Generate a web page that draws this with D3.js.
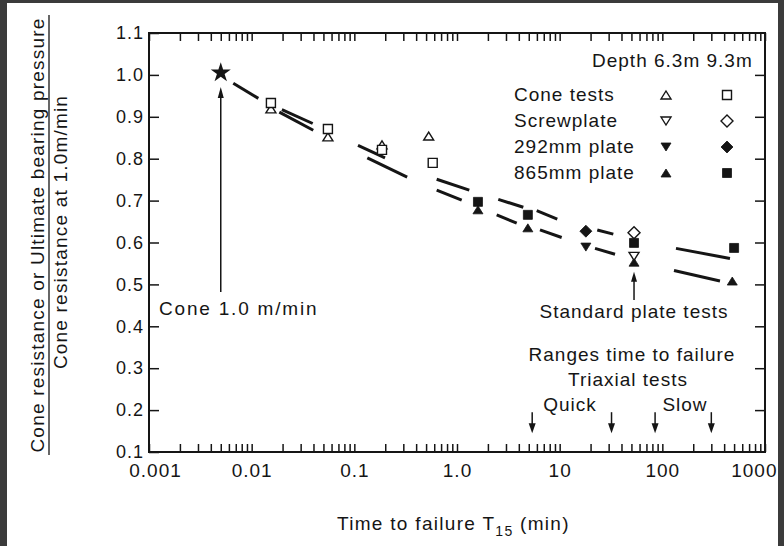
<!DOCTYPE html>
<html><head><meta charset="utf-8">
<script src="https://cdn.jsdelivr.net/npm/d3@7"></script>
<style>
body{margin:0;background:#fff}
svg{display:block}
text{font-family:"Liberation Sans",Arial,Helvetica,sans-serif;fill:#151515}
</style>
</head><body>
<svg id="chart" width="784" height="546"></svg>
<script>
// ---------------- data ----------------
const xDecades = [0.001, 0.01, 0.1, 1, 10, 100, 1000];
const xTickLabels = ["0.001", "0.01", "0.1", "1.0", "10", "100", "1000"];
const yTickValues = [0.1, 0.2, 0.3, 0.4, 0.5, 0.6, 0.7, 0.8, 0.9, 1.0, 1.1];
const yTickLabels = ["0.1", "0.2", "0.3", "0.4", "0.5", "0.6", "0.7", "0.8", "0.9", "1.0", "1.1"];

// [time to failure (min), normalised resistance]
const coneReference = [[0.005, 1.005]];
const coneTests63 = [[0.0154, 0.919], [0.0553, 0.852], [0.186, 0.833], [0.53, 0.854]];
const coneTests93 = [[0.0154, 0.933], [0.0553, 0.871], [0.186, 0.821], [0.58, 0.790]];
const screwplate63 = [[53, 0.567]];
const screwplate93 = [[53, 0.623]];
const plate292_63 = [[18, 0.589]];
const plate292_93 = [[18, 0.627]];
const plate865_63 = [[1.6, 0.678], [4.9, 0.635], [53, 0.553], [480, 0.508]];
const plate865_93 = [[1.6, 0.697], [4.9, 0.666], [53, 0.599], [500, 0.587]];

// dashed trend lines, as [start, end] pairs
const trendCommon = [[[0.00662, 0.980], [0.01161, 0.944]]];
const trendUpper = [
  [[0.0197, 0.917], [0.0393, 0.884]],
  [[0.1086, 0.832], [0.199, 0.802]],
  [[0.634, 0.751], [1.317, 0.725]],
  [[2.525, 0.703], [4.423, 0.684]],
  [[5.974, 0.676], [9.48, 0.656]],
  [[23.25, 0.630], [33.3, 0.620]],
  [[135.8, 0.586], [456, 0.562]]
];
const trendLower = [
  [[0.0186, 0.911], [0.0398, 0.868]],
  [[0.1338, 0.802], [0.327, 0.756]],
  [[0.634, 0.725], [1.111, 0.701]],
  [[2.436, 0.666], [3.815, 0.646]],
  [[6.43, 0.630], [10.46, 0.612]],
  [[22.1, 0.586], [34.6, 0.572]],
  [[129.9, 0.533], [364.4, 0.508]]
];

const coneArrow = {t: 0.005, from: 0.482, to: 0.971};
const standardArrow = {t: 53, from: 0.463, to: 0.530};
const triaxialQuick = [5.4, 32];
const triaxialSlow = [85, 300];
const triaxialArrowRange = [0.195, 0.145];

const legendRows = ["Cone tests", "Screwplate", "292mm plate", "865mm plate"];
const legendShapes63 = [["triUp", false], ["triDown", false], ["triDown", true], ["triUp", true]];
const legendShapes93 = [["square", false], ["diamond", false], ["diamond", true], ["square", true]];

// ---------------- drawing ----------------
const svg = d3.select("#chart");
const W = 784, H = 546;
const pL = 149, pR = 765, pT = 33, pB = 452;
const ink = "#151515";

svg.append("rect").attr("width", W).attr("height", H).attr("fill", "#fff");

const x = d3.scaleLog().domain([0.001, 1000]).range([pL, pR]);
const y = d3.scaleLinear().domain([0.1, 1.1]).range([pB, pT]);

const minorTicks = [];
for (let k = -3; k <= 2; k++) for (let m = 1; m <= 9; m++) minorTicks.push(+(m * Math.pow(10, k)).toPrecision(3));
minorTicks.push(1000);
const fmtX = v => { const i = xDecades.findIndex(d => Math.abs(Math.log10(d) - Math.log10(v)) < 1e-6); return i >= 0 ? xTickLabels[i] : ""; };
const fmtY = v => { const i = yTickValues.findIndex(d => Math.abs(d - v) < 1e-6); return i >= 0 ? yTickLabels[i] : ""; };

function styleAxis(g, fs) {
  g.select(".domain").remove();
  g.selectAll(".tick line").attr("stroke", ink).attr("stroke-width", 1.5);
  g.selectAll(".tick text").attr("fill", ink).attr("font-size", fs).attr("font-family", '"Liberation Sans",Arial,sans-serif').style("letter-spacing", "1px");
}

svg.append("g").attr("transform", `translate(0,${pB})`)
  .call(d3.axisBottom(x).tickValues(minorTicks).tickFormat(fmtX).tickSize(-8).tickPadding(11.5))
  .call(g => styleAxis(g, 19))
  .call(g => g.selectAll(".tick text").filter(d => d === 0.001).attr("dx", 6))
  .call(g => g.selectAll(".tick text").filter(d => d === 1000).attr("text-anchor", "end").attr("dx", 12));
svg.append("g").attr("transform", `translate(0,${pT})`)
  .call(d3.axisTop(x).tickValues(minorTicks).tickFormat(() => "").tickSize(-8))
  .call(g => styleAxis(g, 19));
svg.append("g").attr("transform", `translate(${pL},0)`)
  .call(d3.axisLeft(y).tickValues(yTickValues).tickFormat(fmtY).tickSize(-10).tickPadding(5))
  .call(g => styleAxis(g, 18));
svg.append("g").attr("transform", `translate(${pR},0)`)
  .call(d3.axisRight(y).tickValues(yTickValues.slice(1, -1)).tickFormat(() => "").tickSize(-10))
  .call(g => styleAxis(g, 18));

svg.append("rect").attr("x", pL).attr("y", pT).attr("width", pR - pL).attr("height", pB - pT)
  .attr("fill", "none").attr("stroke", ink).attr("stroke-width", 2);

// trend segments
const segs = trendCommon.concat(trendUpper, trendLower);
svg.append("g").selectAll("line").data(segs).join("line")
  .attr("x1", d => x(d[0][0])).attr("y1", d => y(d[0][1]))
  .attr("x2", d => x(d[1][0])).attr("y2", d => y(d[1][1]))
  .attr("stroke", ink).attr("stroke-width", 3);

// marker shapes
function shapePath(type) {
  const w = 10, h = 8, s = 9, r = 6;
  switch (type) {
    case "triUp": return `M0,${-h/2}L${w/2},${h/2}L${-w/2},${h/2}Z`;
    case "triDown": return `M0,${h/2}L${w/2},${-h/2}L${-w/2},${-h/2}Z`;
    case "square": return `M${-s/2},${-s/2}H${s/2}V${s/2}H${-s/2}Z`;
    case "diamond": return `M0,${-r}L${r},0L0,${r}L${-r},0Z`;
  }
}
function drawSeries(data, type, filled) {
  svg.append("g").selectAll("path").data(data).join("path")
    .attr("transform", d => `translate(${x(d[0])},${y(d[1])})`)
    .attr("d", shapePath(type))
    .attr("fill", filled ? ink : "#fff")
    .attr("stroke", ink).attr("stroke-width", filled ? 0.8 : 1.4)
    .attr("stroke-linejoin", "miter");
}
drawSeries(coneTests63, "triUp", false);
drawSeries(coneTests93, "square", false);
drawSeries(screwplate93, "diamond", false);
drawSeries(plate292_63, "triDown", true);
drawSeries(plate292_93, "diamond", true);
drawSeries(plate865_93, "square", true);
drawSeries(plate865_63, "triUp", true);
drawSeries(screwplate63, "triDown", false);

// star
const star = d3.symbol().type(d3.symbolStar).size(125);
svg.append("g").selectAll("path").data(coneReference).join("path")
  .attr("transform", d => `translate(${x(d[0])},${y(d[1])})`)
  .attr("d", star()).attr("fill", ink);

// arrows
function arrow(xv, y0, y1, headLen, headW) {
  const px = x(xv), a = y(y0), b = y(y1);
  const dir = Math.sign(b - a);
  svg.append("line").attr("x1", px).attr("x2", px).attr("y1", a).attr("y2", b - dir * headLen * 0.6)
    .attr("stroke", ink).attr("stroke-width", 1.5);
  svg.append("path").attr("d", `M${px},${b}L${px + headW/2},${b - dir*headLen}L${px - headW/2},${b - dir*headLen}Z`).attr("fill", ink);
}
arrow(coneArrow.t, coneArrow.from, coneArrow.to, 11, 6);
arrow(standardArrow.t, standardArrow.from, standardArrow.to, 10, 6);
triaxialQuick.concat(triaxialSlow).forEach(t => arrow(t, triaxialArrowRange[0], triaxialArrowRange[1], 10, 7));

// text helper
function label(txt, px, py, anchor, fs, ls) {
  return svg.append("text").attr("x", px).attr("y", py).attr("text-anchor", anchor || "start")
    .attr("font-size", fs || 19).style("letter-spacing", (ls == null ? 1 : ls) + "px").text(txt);
}
label("Cone 1.0 m/min", 159, 315, "start", 19, 1.8);
label("Standard plate tests", 634, 318, "middle");
label("Ranges time to failure", 632, 361, "middle");
label("Triaxial tests", 628, 386, "middle");
label("Quick", 570, 411, "middle");
label("Slow", 685, 411, "middle");

// legend
label("Depth 6.3m 9.3m", 592, 67);
legendRows.forEach((r, i) => {
  const by = 101 + i * 26;
  label(r, 514, by);
  svg.append("path").attr("transform", `translate(666,${by - 6})`).attr("d", shapePath(legendShapes63[i][0]))
    .attr("fill", legendShapes63[i][1] ? ink : "#fff").attr("stroke", ink).attr("stroke-width", legendShapes63[i][1] ? 0.8 : 1.4);
  svg.append("path").attr("transform", `translate(727,${by - 6})`).attr("d", shapePath(legendShapes93[i][0]))
    .attr("fill", legendShapes93[i][1] ? ink : "#fff").attr("stroke", ink).attr("stroke-width", legendShapes93[i][1] ? 0.8 : 1.4);
});

// axis titles
const xt = svg.append("text").attr("x", 337).attr("y", 530).attr("font-size", 19).style("letter-spacing", "1.3px");
xt.append("tspan").text("Time to failure T");
xt.append("tspan").attr("font-size", 14).attr("dy", 6).text("15");
xt.append("tspan").attr("dy", -6).text(" (min)");

svg.append("text").attr("transform", "translate(44,235) rotate(-90)").attr("text-anchor", "middle")
  .attr("font-size", 19).style("letter-spacing", "1.2px").text("Cone resistance or Ultimate bearing pressure");
svg.append("line").attr("x1", 49).attr("x2", 49).attr("y1", 15).attr("y2", 455).attr("stroke", ink).attr("stroke-width", 1.3);
svg.append("text").attr("transform", "translate(67,232) rotate(-90)").attr("text-anchor", "middle")
  .attr("font-size", 19).style("letter-spacing", "1.2px").text("Cone resistance at 1.0m/min");

// dark scan borders
svg.append("rect").attr("x", 0).attr("y", 0).attr("width", 7).attr("height", H).attr("fill", "#3b3b3b");
svg.append("rect").attr("x", 0).attr("y", 0).attr("width", W).attr("height", 3).attr("fill", "#3b3b3b");
svg.append("rect").attr("x", 778).attr("y", 0).attr("width", 6).attr("height", H).attr("fill", "#3b3b3b");
</script>
</body></html>
